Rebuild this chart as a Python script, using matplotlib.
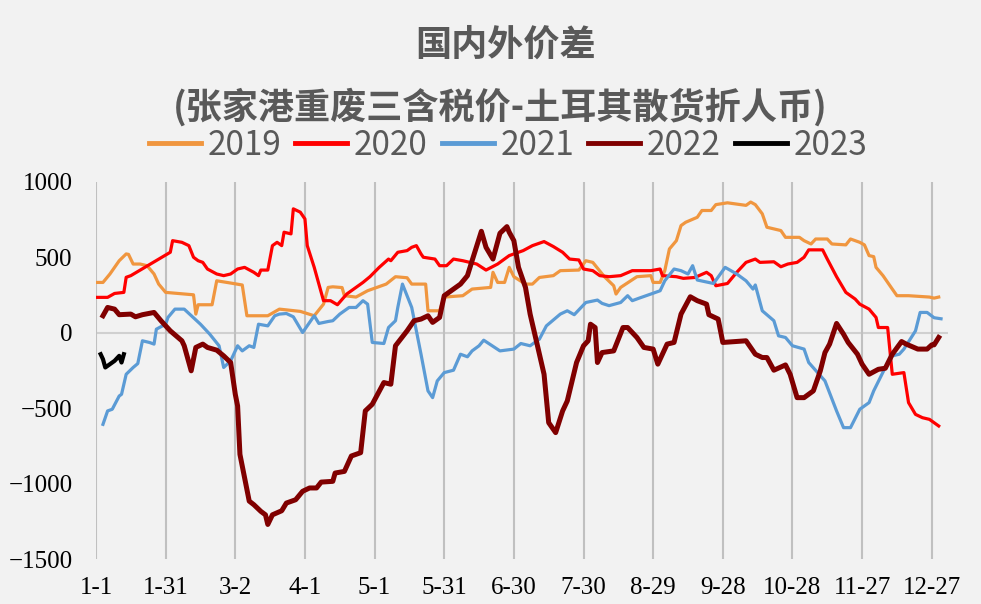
import numpy as np
import matplotlib
matplotlib.use("Agg")
import matplotlib.pyplot as plt

plt.rcParams['font.family'] = ['Noto Sans CJK SC', 'DejaVu Sans']

# etiquetas del eje x (cada 30 dias)
tick_dias = [0, 30, 60, 90, 120, 150, 180, 210, 240, 270, 300, 330, 360]
tick_labels = ["1-1", "1-31", "3-2", "4-1", "5-1", "5-31", "6-30", "7-30",
               "8-29", "9-28", "10-28", "11-27", "12-27"]

# 2019
d19 = [0, 3, 6, 8, 10, 13, 14, 16, 19, 22, 25, 27, 30, 42, 43, 44, 50, 52, 58, 63,
       65, 74, 79, 88, 94, 98, 100, 102, 106, 107, 112, 117, 125, 129, 134, 136, 142, 143, 148, 150,
       158, 162, 170, 171, 173, 176, 178, 180, 185, 188, 191, 197, 200, 208, 211, 214, 219, 223, 224, 226,
       233, 239, 240, 243, 245, 247, 250, 252, 254, 259, 261, 265, 267, 272, 280, 282, 284, 287, 289, 295,
       297, 303, 305, 308, 310, 315, 317, 323, 325, 329, 331, 333, 335, 336, 339, 343, 345, 350, 359, 361, 363]
v19 = [334, 334, 390, 434, 478, 523, 520, 456, 456, 445, 390, 323, 268, 252, 124, 186, 186, 345, 330, 317,
       113, 113, 157, 142, 113, 190, 301, 305, 300, 246, 237, 279, 323, 372, 365, 323, 323, 146, 146, 237,
       246, 290, 301, 401, 334, 334, 434, 372, 323, 323, 367, 379, 412, 416, 478, 467, 372, 312, 257, 301,
       372, 379, 334, 334, 412, 556, 611, 711, 733, 766, 811, 811, 850, 862, 845, 867, 850, 789, 700, 678,
       633, 633, 611, 589, 622, 622, 589, 583, 622, 600, 583, 512, 505, 434, 379, 290, 246, 246, 237, 230, 237]

# 2020
d20 = [0, 5, 8, 12, 13, 15, 32, 33, 37, 40, 42, 44, 46, 48, 52, 55, 58, 61, 64, 68,
       70, 71, 74, 76, 78, 80, 81, 84, 85, 88, 90, 91, 94, 98, 101, 104, 108, 111, 115, 118,
       122, 126, 127, 130, 134, 136, 138, 140, 141, 146, 148, 151, 154, 158, 164, 168, 173, 178, 184, 188,
       193, 197, 201, 204, 208, 210, 214, 217, 221, 226, 231, 239, 243, 244, 250, 253, 258, 263, 265, 267,
       272, 276, 280, 284, 286, 292, 295, 298, 302, 305, 307, 313, 315, 319, 323, 327, 329, 333, 336, 337,
       341, 343, 348, 350, 353, 356, 359, 363]
v20 = [235, 235, 261, 268, 368, 379, 534, 611, 600, 578, 501, 478, 467, 423, 390, 379, 390, 423, 434, 401,
       379, 416, 416, 578, 600, 578, 667, 656, 822, 800, 755, 578, 434, 213, 213, 186, 257, 290, 334, 372,
       434, 489, 478, 534, 545, 567, 578, 523, 501, 489, 445, 445, 489, 478, 456, 416, 456, 512, 545, 578,
       605, 572, 534, 489, 483, 423, 412, 379, 372, 379, 412, 412, 423, 379, 372, 361, 367, 401, 379, 312,
       327, 401, 467, 489, 467, 471, 438, 456, 467, 501, 550, 550, 489, 372, 268, 224, 190, 157, 102, 35,
       35, -275, -264, -463, -541, -563, -574, -618]

# 2021
d21 = [3, 5, 7, 10, 11, 13, 16, 18, 20, 23, 25, 26, 30, 31, 34, 38, 45, 49, 53, 55,
       58, 61, 63, 66, 68, 70, 74, 77, 79, 82, 85, 89, 94, 96, 100, 102, 105, 109, 112, 115,
       117, 119, 124, 126, 129, 130, 132, 136, 140, 143, 145, 147, 150, 154, 157, 160, 162, 165, 167, 174,
       180, 183, 187, 191, 194, 200, 203, 206, 211, 216, 218, 221, 226, 229, 231, 234, 239, 243, 245, 249,
       252, 255, 257, 259, 266, 271, 276, 280, 283, 284, 287, 292, 294, 297, 300, 305, 307, 314, 319, 322,
       325, 329, 333, 335, 340, 343, 346, 348, 353, 355, 358, 361, 364]
v21 = [-607, -518, -507, -419, -408, -275, -230, -204, -53, -64, -75, 24, 57, 102, 157, 157, 57, -9, -86, -230,
       -186, -86, -120, -86, -97, 57, 46, 113, 124, 128, 106, 2, 113, 62, 75, 80, 124, 168, 168, 213,
       190, -64, -71, 35, 80, 168, 323, 168, -142, -385, -430, -319, -264, -248, -142, -159, -120, -86, -49, -120,
       -108, -71, -86, -42, 46, 124, 146, 120, 201, 217, 195, 180, 201, 246, 213, 230, 257, 279, 345, 423,
       412, 390, 445, 350, 327, 434, 390, 345, 290, 317, 146, 80, -20, -31, -86, -108, -197, -319, -518, -629,
       -629, -507, -463, -385, -230, -153, -142, -108, 13, 135, 135, 100, 93]

# 2022
d22 = [3, 5, 8, 10, 15, 17, 20, 25, 28, 32, 37, 38, 41, 43, 46, 48, 52, 55, 58, 60,
       61, 62, 64, 66, 68, 71, 73, 74, 76, 80, 82, 86, 89, 92, 95, 97, 102, 103, 107, 110,
       114, 116, 119, 124, 127, 129, 134, 137, 140, 143, 145, 148, 150, 154, 157, 160, 162, 166, 168, 171,
       174, 177, 178, 180, 182, 185, 187, 190, 193, 195, 198, 201, 203, 207, 210, 212, 213, 215, 216, 218,
       223, 227, 229, 233, 236, 240, 242, 246, 249, 252, 256, 259, 263, 264, 268, 270, 280, 284, 287, 289,
       292, 297, 299, 302, 305, 309, 312, 314, 316, 319, 322, 324, 328, 330, 333, 337, 340, 343, 347, 349,
       354, 358, 360, 361, 363]
v22 = [113, 168, 157, 120, 124, 106, 120, 135, 80, 13, -53, -86, -252, -97, -75, -97, -115, -153, -197, -408,
       -485, -806, -961, -1116, -1140, -1184, -1207, -1271, -1207, -1180, -1129, -1107, -1051, -1029, -1029, -990, -985, -930, -919, -817,
       -795, -518, -474, -330, -341, -86, 13, 80, 91, 113, 69, 102, 246, 290, 323, 379, 478, 673, 567, 489,
       660, 704, 667, 611, 434, 301, 124, -75, -275, -596, -662, -518, -452, -197, -86, -53, 57, 35, -197, -131,
       -120, 35, 35, -31, -97, -108, -208, -75, -64, 124, 239, 213, 190, 120, 91, -64, -53, -142, -164, -164,
       -248, -213, -275, -430, -430, -385, -252, -131, -75, 62, -9, -64, -142, -208, -275, -242, -235, -142, -58, -75,
       -108, -108, -80, -80, -31]

# 2023
d23 = [2, 3, 4, 5, 8, 10, 11, 12]
v23 = [-142, -175, -230, -219, -186, -153, -197, -142]

fig = plt.figure(figsize=(9.81, 6.04), dpi=100, facecolor="#f2f2f2")
ax = fig.add_axes([96 / 981, 45 / 604, 852 / 981, 377 / 604])
ax.set_facecolor("#f2f2f2")

ax.plot(d19, v19, color="#f0963f", lw=2.3, label="2019")
ax.plot(d20, v20, color="#ff0000", lw=2.3, label="2020")
ax.plot(d21, v21, color="#5b9bd5", lw=2.3, label="2021")
ax.plot(d22, v22, color="#800000", lw=3.6, label="2022")
ax.plot(d23, v23, color="#000000", lw=3.0, label="2023")

ax.set_xlim(0, 367)
ax.set_ylim(-1500, 1000)
ax.set_yticks([1000, 500, 0, -500, -1000, -1500])
ax.set_xticks(tick_dias)
ax.set_xticklabels(tick_labels)
ax.axhline(0, color="#d0d0d0", lw=1.5, zorder=0)
ax.grid(axis="x", color="#c0c0c0", lw=1.5)
ax.set_axisbelow(True)
for s in ax.spines.values():
    s.set_visible(False)
ax.tick_params(axis="x", length=0, labelsize=18, pad=13)
ax.tick_params(axis="y", length=0, labelsize=18, pad=17)
for lab in ax.get_xticklabels() + ax.get_yticklabels():
    lab.set_family("Liberation Serif")

fig.text(0.515, 1 - 45 / 604, "国内外价差", ha="center", va="center",
         fontsize=26, fontweight="bold", color="#595959")
fig.text(0.510, 1 - 107 / 604, "(张家港重废三含税价-土耳其散货折人币)", ha="center", va="center",
         fontsize=26, fontweight="bold", color="#595959")

leg = fig.legend(loc="center", bbox_to_anchor=(0.518, 1 - 145 / 604), ncol=5, frameon=False,
                 fontsize=24, handlelength=1.56, handletextpad=0.2, columnspacing=0.42)
for t in leg.get_texts():
    t.set_color("#595959")
for h in leg.get_lines():
    h.set_linewidth(3.5)

plt.savefig("out.png", dpi=100, facecolor=fig.get_facecolor())
